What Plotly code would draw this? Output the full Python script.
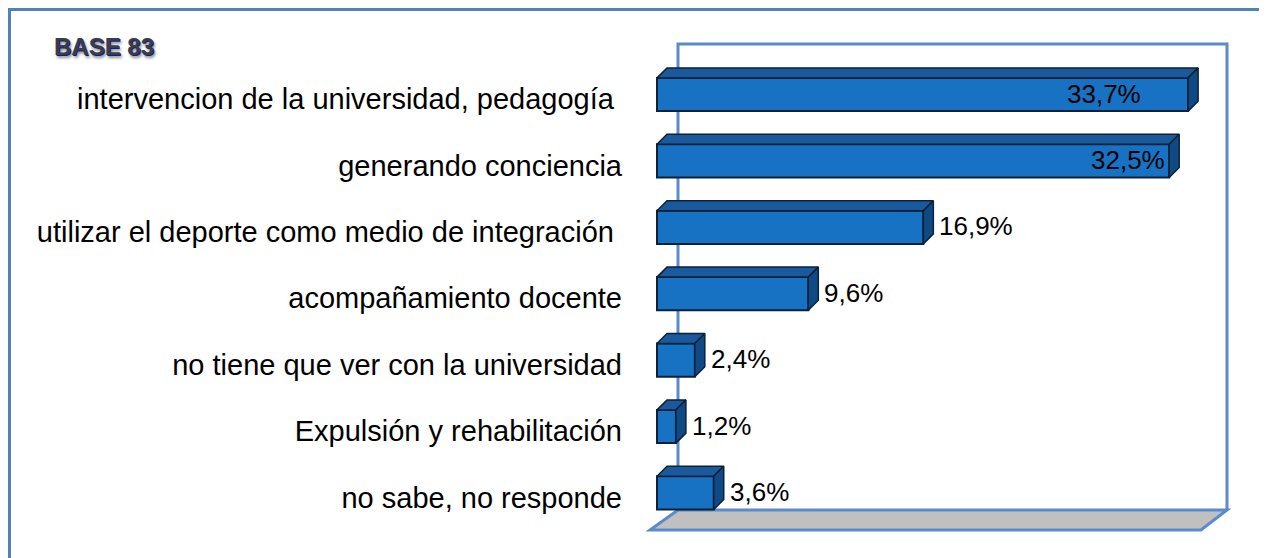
import plotly.graph_objects as go

# ---------------- data ----------------
categories = [
    "intervencion de la universidad, pedagogía\u00a0",
    "generando conciencia",
    "utilizar el deporte como medio de integración\u00a0",
    "acompañamiento docente",
    "no tiene que ver con la universidad",
    "Expulsión y rehabilitación",
    "no sabe, no responde",
]
values = [33.7, 32.5, 16.9, 9.6, 2.4, 1.2, 3.6]
value_labels = [f"{v:.1f}".replace(".", ",") + "%" for v in values]
title_text = "BASE 83"

# ---------------- layout geometry (pixels, in window coordinates) ----------------
W, H = 1267, 558
BODY = 8                                   # default page margin around the figure
PL, PR, PT, PB = 645, 1232, 40, 535        # plot area
X0PX, XSCALE = 657, 15.76                  # pixel of 0 %, pixels per %
Y0PX, YSTEP = 94.5, 66.4                   # pixel of first category, pixels per category
LABEL_DROP = 4.5                           # category labels sit slightly below bar centres

def X(px):
    return (px - X0PX) / XSCALE

def Y(py):
    return (py - Y0PX) / YSTEP

xr = [X(PL), X(PR)]
yr = [Y(PB), Y(PT)]  # reversed: first category on top

BAR_W = 0.5
DX = 10 / XSCALE      # depth to the right
DY = 10 / YSTEP       # depth upward
FRONT = "#1872C4"
TOP = "#1A5A9C"
SIDE = "#104A86"
EDGE = "#0B2138"
WALL = "#5B8BC9"

idx = list(range(len(categories)))

fig = go.Figure()

# front faces of the bars
fig.add_trace(go.Bar(
    x=values, y=idx, orientation="h", width=BAR_W,
    marker=dict(color=FRONT, line=dict(color=EDGE, width=2)),
    hoverinfo="skip", showlegend=False,
))

# top and side faces computed from the values
top_x, top_y, side_x, side_y = [], [], [], []
for i, v in zip(idx, values):
    yt = i - BAR_W / 2
    yb = i + BAR_W / 2
    top_x += [0, v, v + DX, DX, 0, None]
    top_y += [yt, yt, yt - DY, yt - DY, yt, None]
    side_x += [v, v + DX, v + DX, v, v, None]
    side_y += [yt, yt - DY, yb - DY, yb, yt, None]

fig.add_trace(go.Scatter(x=top_x, y=top_y, mode="lines", fill="toself",
                         fillcolor=TOP, line=dict(color=EDGE, width=1.5),
                         hoverinfo="skip", showlegend=False))
fig.add_trace(go.Scatter(x=side_x, y=side_y, mode="lines", fill="toself",
                         fillcolor=SIDE, line=dict(color=EDGE, width=1.5),
                         hoverinfo="skip", showlegend=False))

# value labels
label_inside = [True, True, False, False, False, False, False]
label_shift = [-45, -2, 14, 14, 14, 14, 14]
annotations = []
for i, (v, t, ins, sh) in enumerate(zip(values, value_labels, label_inside, label_shift)):
    annotations.append(dict(
        x=v, y=i, xref="x", yref="y", text=t, showarrow=False,
        xanchor="right" if ins else "left", yanchor="middle", xshift=sh, yshift=1,
        font=dict(family="Liberation Sans, Arial, sans-serif", size=26, color="black"),
    ))

# title
annotations.append(dict(
    x=(52 - PL) / (PR - PL), y=(PB - 47) / (PB - PT), xref="paper", yref="paper",
    text=f"<b>{title_text}</b>", showarrow=False, xanchor="left", yanchor="middle",
    font=dict(family="Liberation Sans Narrow, Arial Narrow, Liberation Sans, sans-serif",
              size=24, color="#3B3B4A", shadow="1px 1px 0px #0A1F80, 2px 3px 3px #888"),
))

shapes = [
    # floor
    dict(type="path", xref="x", yref="y", layer="below",
         path=f"M {X(650)},{Y(530)} L {X(1201)},{Y(530)} L {X(1227)},{Y(510)} L {X(678)},{Y(510)} Z",
         fillcolor="#C0C0C0", line=dict(color=WALL, width=3)),
    # back wall
    dict(type="path", xref="x", yref="y", layer="below",
         path=f"M {X(678)},{Y(510)} L {X(678)},{Y(44)} L {X(1227)},{Y(44)} L {X(1227)},{Y(510)}",
         line=dict(color=WALL, width=3)),
    # outer frame
    dict(type="rect", xref="paper", yref="paper", layer="above",
         x0=(9 - PL) / (PR - PL), x1=(1265 - PL) / (PR - PL),
         y0=(PB - 575) / (PB - PT), y1=(PB - 9) / (PB - PT),
         line=dict(color="#4F81BD", width=4), fillcolor="rgba(0,0,0,0)"),
]

fig.update_layout(
    width=W - BODY, height=H - BODY,
    margin=dict(l=PL - BODY, r=W - PR, t=PT - BODY, b=H - PB, pad=0),
    paper_bgcolor="white", plot_bgcolor="rgba(0,0,0,0)",
    xaxis=dict(range=xr, visible=False, fixedrange=True),
    yaxis=dict(range=yr, tickvals=[i + LABEL_DROP / YSTEP for i in idx], ticktext=categories,
               showgrid=False, zeroline=False, showline=False, ticks="", ticklabelstandoff=22,
               tickfont=dict(family="Liberation Sans, Arial, sans-serif", size=29, color="black"),
               fixedrange=True),
    annotations=annotations,
    shapes=shapes,
    showlegend=False,
)

fig.write_html("out.html")
